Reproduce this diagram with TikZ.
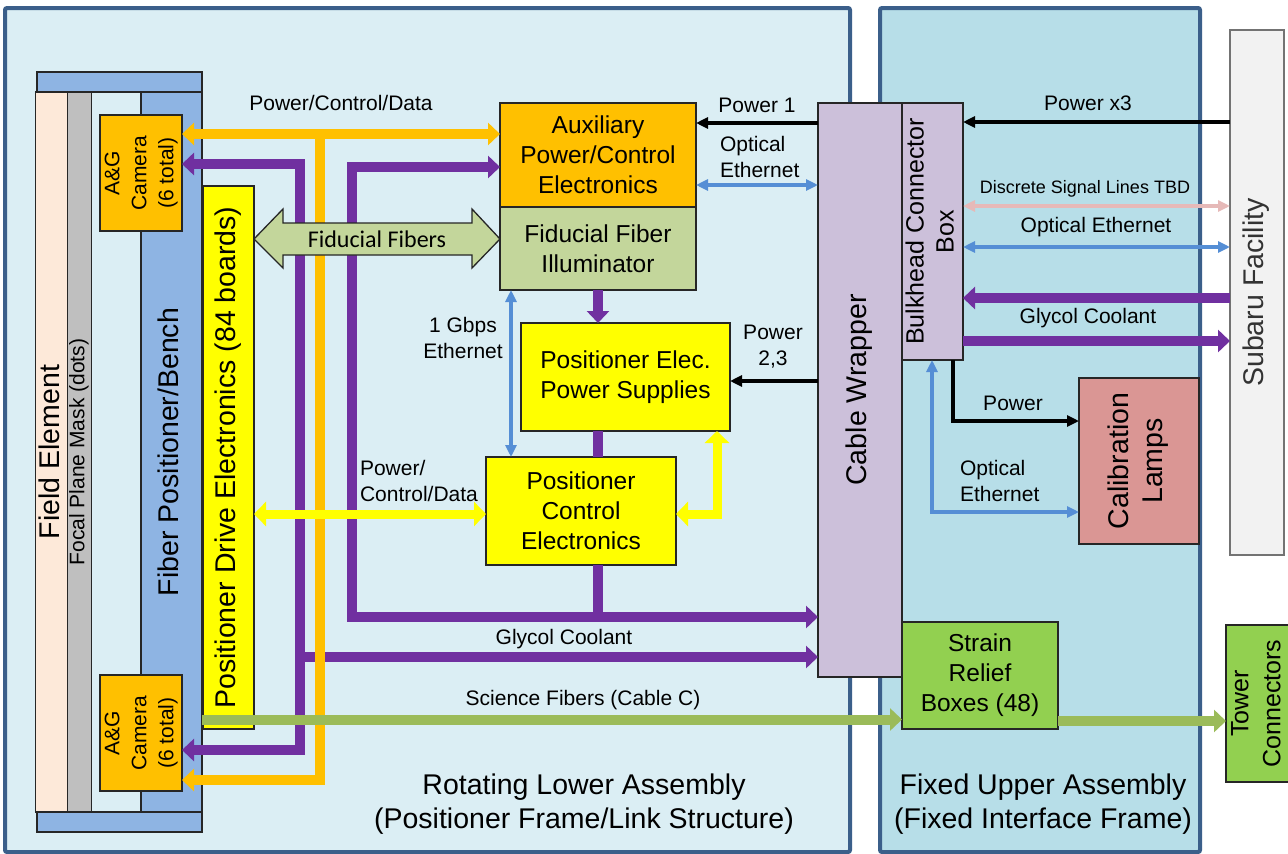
\documentclass[tikz,border=0pt]{standalone}
\usepackage{fontspec}
\setmainfont{Liberation Sans}
\newfontfamily\calfont{Carlito}
\usepackage{graphicx}
\usetikzlibrary{arrows.meta,calc}
\definecolor{frameB}{HTML}{3B5F8A}
\definecolor{lowF}{HTML}{DBEEF4}
\definecolor{upF}{HTML}{B7DEE8}
\definecolor{peachF}{HTML}{FDE9D9}
\definecolor{grayM}{HTML}{BFBFBF}
\definecolor{benchB}{HTML}{8EB4E3}
\definecolor{orng}{HTML}{FFC000}
\definecolor{yelw}{HTML}{FFFF00}
\definecolor{oliveF}{HTML}{C3D69B}
\definecolor{lilac}{HTML}{CCC0DA}
\definecolor{roseF}{HTML}{DA9694}
\definecolor{lgrn}{HTML}{92D050}
\definecolor{fgrn}{HTML}{9BBB59}
\definecolor{purp}{HTML}{7030A0}
\definecolor{ltblue}{HTML}{558ED5}
\definecolor{pinkL}{HTML}{E6B9B8}
\definecolor{subg}{HTML}{F2F2F2}
\newcommand{\vt}[1]{\rotatebox{90}{\begin{tabular}{@{}c@{}}#1\end{tabular}}}
\newcommand{\myA}{\fontsize{24.5}{30}\selectfont}
\newcommand{\myB}{\fontsize{28.5}{34}\selectfont}
\newcommand{\myC}{\fontsize{21}{27}\selectfont}
\newcommand{\myL}{\fontsize{21}{26}\selectfont}
\newcommand{\myS}{\fontsize{18}{22}\selectfont}
\newcommand{\myD}{\fontsize{25}{30}\selectfont}
\newcommand{\myT}{\fontsize{25}{32}\selectfont}
\newcommand{\myF}{\fontsize{21}{24}\selectfont}
\tikzset{
 frm/.style={draw=frameB, line width=4pt, inner sep=0pt, outer sep=0pt, rounded corners=2pt},
 bx/.style={draw=black!85, line width=1.3pt, inner sep=0pt, outer sep=0pt},
 bxa/.style={bx, align=center},
 lbl/.style={inner sep=0pt, outer sep=0pt, align=center, font=\myL},
 thickln/.style={line width=#1, line join=miter, >={Triangle[length=12pt,width=22pt]}},
 pur/.style={draw=purp, thickln=10pt},
 org/.style={draw=orng, thickln=10pt},
 yel/.style={draw=yelw, thickln=9pt, >={Triangle[length=12pt,width=24pt]}},
 grn/.style={draw=fgrn, thickln=10pt},
 thn/.style={line width=3.2pt, line join=miter, >={Triangle[length=12pt,width=11pt]}},
 blk/.style={draw=black, thn},
 blu/.style={draw=ltblue, thn},
 pnk/.style={draw=pinkL, thn},
 ffarrow/.style={draw=black!85, line width=1.3pt, fill=oliveF, line join=miter}
}
\begin{document}
\begin{tikzpicture}[x=1pt,y=-1pt]
\fill[white] (0,0) rectangle (1288,854);
\useasboundingbox (0,0) rectangle (1288,854);
% frames
\node[frm, fill=lowF, minimum width=845pt, minimum height=844pt] (lowA) at (427.5,430) {};
\node[frm, fill=upF, minimum width=320pt, minimum height=844pt] (upA) at (1040,430) {};
\node[bx, draw=black!55, fill=subg, minimum width=54pt, minimum height=525pt, font=\myB, text=black!80] (subaru) at (1257,292.5) {\vt{Subaru Facility}};
\node[bx, fill=lgrn, minimum width=56pt, minimum height=157pt, font=\myT] (tower) at (1258,703.5) {\vt{Tower\\Connectors}};
% left column
\node[bx, fill=peachF, minimum width=31pt, minimum height=720pt, font=\myB] (field) at (52.5,452) {\vt{Field Element}};
\node[bx, fill=grayM, minimum width=22pt, minimum height=720pt, font=\myF] (focal) at (79.5,452) {\vt{Focal Plane Mask (dots)}};
\node[bx, fill=benchB, minimum width=61pt, minimum height=720pt, font=\myB] (bench) at (171.5,452) {\vt{Fiber Positioner/Bench}};
\node[bx, fill=benchB, minimum width=165pt, minimum height=20pt] (topbar) at (119.5,82) {};
\node[bx, fill=benchB, minimum width=165pt, minimum height=20pt] (botbar) at (119.5,822) {};
\node[bx, fill=orng, minimum width=82pt, minimum height=116pt, font=\myC] (camT) at (141,173) {\vt{A\&G\\Camera\\(6 total)}};
\node[bx, fill=orng, minimum width=82pt, minimum height=116pt, font=\myC] (camB) at (141,733) {\vt{A\&G\\Camera\\(6 total)}};
\node[bx, fill=yelw, minimum width=51pt, minimum height=543pt, font=\myB] (pde) at (228.5,457.5) {\vt{Positioner Drive Electronics (84 boards)}};
% middle boxes
\node[bxa, fill=orng, minimum width=196pt, minimum height=104pt, font=\myA] (aux) at (598,155) {Auxiliary\\Power/Control\\Electronics};
\node[bxa, fill=oliveF, minimum width=196pt, minimum height=83pt, font=\myA] (ffi) at (598,248.5) {Fiducial Fiber\\Illuminator};
\node[bxa, fill=yelw, minimum width=209pt, minimum height=108pt, font=\myA] (peps) at (625.5,377) {Positioner Elec.\\Power Supplies};
\node[bxa, fill=yelw, minimum width=190pt, minimum height=108pt, font=\myA] (pce) at (581,511) {Positioner\\Control\\Electronics};
\node[bx, fill=lilac, minimum width=84pt, minimum height=574pt, font=\myB] (cw) at (860,390) {\vt{Cable Wrapper}};
\node[bx, fill=lilac, minimum width=61pt, minimum height=257pt, font=\myD] (bcb) at (932.5,231.5) {\vt{Bulkhead Connector\\Box}};
\node[bx, fill=roseF, minimum width=120pt, minimum height=166pt, font=\myB] (cal) at (1139,461) {\vt{Calibration\\Lamps}};
\node[bxa, fill=lgrn, minimum width=156pt, minimum height=107pt, font=\myA] (srb) at (980,675.5) {Strain\\Relief\\Boxes (48)};
% labels
\node[lbl] (lPCD) at (341,103) {Power/Control/Data};
\node[lbl] (lP1) at (757,105) {Power 1};
\node[lbl, anchor=west, align=left] (lOE1) at (720,157) {Optical\\Ethernet};
\node[lbl] (lP23) at (773,347) {Power\\2,3};
\node[lbl] (lGb) at (463,338) {1 Gbps\\Ethernet};
\node[lbl, anchor=west, align=left] (lPCD2) at (360,481) {Power/\\Control/Data};
\node[lbl] (lGC) at (564,639) {Glycol Coolant};
\node[lbl] (lSF) at (583,700) {Science Fibers (Cable C)};
\node[lbl, font=\myB] (lRot) at (584,804) {Rotating Lower Assembly\\(Positioner Frame/Link Structure)};
\node[lbl, font=\myB] (lFix) at (1043,804) {Fixed Upper Assembly\\(Fixed Interface Frame)};
\node[lbl] (lPx3) at (1088,103) {Power x3};
\node[lbl, font=\myS] (lDS) at (1085,189) {Discrete Signal Lines TBD};
\node[lbl] (lOE2) at (1096,227) {Optical Ethernet};
\node[lbl] (lGC2) at (1088,318) {Glycol Coolant};
\node[lbl] (lPw) at (1013,403) {Power};
\node[lbl, anchor=west, align=left] (lOE3) at (960,481) {Optical\\Ethernet};
% waypoints
\coordinate (yP1) at (0,123);
\coordinate (yOE1) at (0,185);
\coordinate (yP23) at (0,381);
\coordinate (yPx3) at (0,122);
\coordinate (yDS) at (0,206);
\coordinate (yOE2) at (0,247);
\coordinate (yG1) at (0,298);
\coordinate (yG2) at (0,341);
\coordinate (kP) at (953,421);
\coordinate (kO) at (932,512);
\coordinate (oT) at (320,134);
\coordinate (oB) at (320,780);
\coordinate (pA1) at (300,164);
\coordinate (pA2) at (300,750);
\coordinate (pG) at (300,657);
\coordinate (pB1) at (352,167);
\coordinate (pB2) at (352,617);
\coordinate (pY) at (717,514);
\coordinate (bG) at (511,0);
\coordinate (ySF) at (0,719.5);
\coordinate (yTW) at (0,721);
\coordinate (yFF) at (0,239);
% thin connectors
\draw[blk,->] (cw.west |- yP1) -- (aux.east |- yP1);
\draw[blu,<->] (aux.east |- yOE1) -- (cw.west |- yOE1);
\draw[blk,->] (cw.west |- yP23) -- (peps.east |- yP23);
\draw[blu,<->] (bG |- ffi.south) -- (bG |- pce.north);
\draw[blk,->] (subaru.west |- yPx3) -- (bcb.east |- yPx3);
\draw[pnk,<->] (bcb.east |- yDS) -- (subaru.west |- yDS);
\draw[blu,<->] (bcb.east |- yOE2) -- (subaru.west |- yOE2);
\draw[blk,->] (kP |- bcb.south) -- (kP) -- (cal.west |- kP);
\draw[blu,<->] (kO |- bcb.south) -- (kO) -- (cal.west |- kO);
% purple
\draw[pur,<->] (camT.east |- pA1) -- (pA1) -- (pA2) -- (camB.east |- pA2);
\draw[pur,->] (pG) -- (cw.west |- pG);
\draw[pur,<->] (aux.west |- pB1) -- (pB1) -- (pB2) -- (cw.west |- pB2);
\draw[pur,->] (ffi.south) -- (ffi.south |- peps.north);
\draw[pur] (ffi.south |- peps.south) -- (ffi.south |- pce.north);
\draw[pur] (ffi.south |- pce.south) -- (ffi.south |- pB2);
\draw[pur,->] (subaru.west |- yG1) -- (bcb.east |- yG1);
\draw[pur,->] (bcb.east |- yG2) -- (subaru.west |- yG2);
% orange
\draw[org,<->] (camT.east |- oT) -- (aux.west |- oT);
\draw[org,->] (oT) -- (oB) -- (camB.east |- oB);
% yellow
\draw[yel,<->] (pde.east |- pY) -- (pce.west |- pY);
\draw[yel,<->] (pce.east |- pY) -- (pY) -- (pY |- peps.south);
% green
\draw[grn,->] (bench.east |- ySF) -- (srb.west |- ySF);
\draw[grn,->] (srb.east |- yTW) -- (tower.west |- yTW);
% fiducial fibers arrow
\draw[ffarrow] (pde.east |- yFF) -- ++(29,-30) -- ++(0,14)
  -- ($(ffi.west |- yFF)+(-28,-16)$) -- ++(0,-14) -- (ffi.west |- yFF)
  -- ++(-28,29) -- ++(0,-13) -- ($(pde.east |- yFF)+(29,16)$) -- ++(0,13) -- cycle;
\node[inner sep=0pt, font=\calfont\fontsize{24}{28}\selectfont] (fftext) at (377,239) {Fiducial Fibers};
\end{tikzpicture}
\end{document}
